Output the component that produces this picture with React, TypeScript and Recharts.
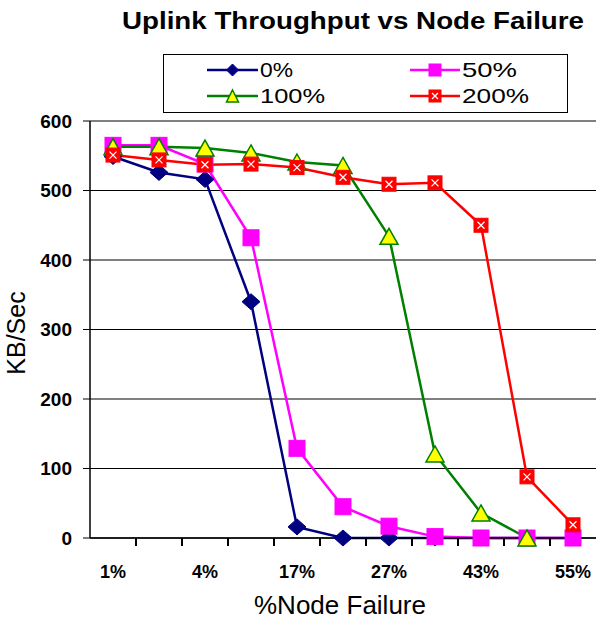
import React from "react";
import { LineChart, Line, XAxis, YAxis, CartesianGrid } from "recharts";

const categories = ["1%", "", "4%", "", "17%", "", "27%", "", "43%", "", "55%"];
const pos = [0.5, 1.5, 2.5, 3.5, 4.5, 5.5, 6.5, 7.5, 8.5, 9.5, 10.5];
const s0 = [549, 526, 516, 340, 16, 0, 0, 0, 0, 0, 0];
const s50 = [565, 565, 538, 432, 129, 45, 17, 2, 0, 0, 0];
const s100 = [563, 563, 561, 554, 541, 536, 434, 121, 36, 0, null];
const s200 = [551, 544, 537, 538, 533, 519, 509, 511, 450, 88, 19];
const yTicks = [0, 100, 200, 300, 400, 500, 600];
const boundaryTicks = [1, 2, 3, 4, 5, 6, 7, 8, 9, 10];
const xTicks = [...pos, ...boundaryTicks].sort((a, b) => a - b);

const data = categories.map((name, i) => ({
  name,
  x: pos[i],
  p0: s0[i],
  p50: s50[i],
  p100: s100[i],
  p200: s200[i],
}));

const FONT = "'Liberation Sans', Arial, sans-serif";
const NAVY = "#000080";
const MAGENTA = "#FF00FF";
const GREEN = "#008000";
const RED = "#FF0000";
const YELLOW = "#FFFF00";

const Diamond = ({ cx, cy, w = 9, h = 8 }: any) => (
  <polygon
    points={`${cx},${cy - h} ${cx + w},${cy} ${cx},${cy + h} ${cx - w},${cy}`}
    fill={NAVY}
    stroke={NAVY}
  />
);
const Square = ({ cx, cy, r = 8 }: any) => (
  <rect x={cx - r} y={cy - r} width={2 * r} height={2 * r} fill={MAGENTA} stroke={MAGENTA} />
);
const Tri = ({ cx, cy, w = 9, h = 8 }: any) => (
  <polygon
    points={`${cx},${cy - h} ${cx + w},${cy + h} ${cx - w},${cy + h}`}
    fill={YELLOW}
    stroke={GREEN}
    strokeWidth={1.5}
  />
);
const XSq = ({ cx, cy, r = 7 }: any) => (
  <g>
    <rect x={cx - r} y={cy - r} width={2 * r} height={2 * r} fill={RED} stroke={RED} />
    <line x1={cx - r * 0.5} y1={cy - r * 0.5} x2={cx + r * 0.5} y2={cy + r * 0.5} stroke="#fff" strokeWidth={1.2} />
    <line x1={cx - r * 0.5} y1={cy + r * 0.5} x2={cx + r * 0.5} y2={cy - r * 0.5} stroke="#fff" strokeWidth={1.2} />
  </g>
);

const mkDot = (Comp: any) => (props: any) => {
  const { cx, cy, index, value } = props;
  if (cx == null || cy == null || value == null) return <g key={`d${index}`} />;
  return <Comp key={`d${index}`} cx={cx} cy={cy} />;
};

const XTick = (props: any) => {
  const { x, y, payload } = props;
  const v = Number(payload.value);
  const isBoundary = Math.abs(v - Math.round(v)) < 1e-6;
  const label = isBoundary ? "" : categories[Math.floor(v)];
  return (
    <g>
      {isBoundary && <line x1={x} y1={y} x2={x} y2={y + 8} stroke="#000" strokeWidth={2} />}
      {label && (
        <text x={x} y={y + 40} textAnchor="middle" fontSize={18} fontWeight="bold" fill="#000" fontFamily={FONT}>
          {label}
        </text>
      )}
    </g>
  );
};

const legendItems = [
  { label: "0%", color: NAVY, x: 207, y: 70, len: 33, Comp: Diamond, w: 51 },
  { label: "50%", color: MAGENTA, x: 410, y: 70, len: 55, Comp: Square, w: 50 },
  { label: "100%", color: GREEN, x: 207, y: 96, len: 65, Comp: Tri, w: 51 },
  { label: "200%", color: RED, x: 410, y: 96, len: 67, Comp: XSq, w: 50 },
];

export default function App() {
  return (
    <div style={{ position: "absolute", left: 0, top: 0, width: 596, height: 621, background: "#fff" }}>
      <LineChart
        width={596}
        height={621}
        data={data}
        margin={{ top: 121, right: 0, left: 0, bottom: 0 }}
        style={{ fontFamily: FONT }}
      >
        <CartesianGrid vertical={false} stroke="#000" strokeWidth={1} />
        <XAxis
          type="number"
          dataKey="x"
          domain={[0, 11]}
          ticks={xTicks}
          interval={0}
          height={83}
          tickSize={0}
          tickMargin={0}
          tickLine={false}
          axisLine={{ stroke: "#000", strokeWidth: 1.5 }}
          tick={<XTick />}
        />
        <YAxis
          width={90}
          domain={[0, 600]}
          ticks={yTicks}
          interval={0}
          tickSize={7}
          tickMargin={11}
          axisLine={{ stroke: "#000", strokeWidth: 1.5 }}
          tickLine={{ stroke: "#000", strokeWidth: 1 }}
          tick={{ fill: "#000", fontSize: 19, fontWeight: "bold", fontFamily: FONT }}
        />
        <Line dataKey="p0" stroke={NAVY} strokeWidth={2.5} dot={mkDot(Diamond)} isAnimationActive={false} />
        <Line dataKey="p50" stroke={MAGENTA} strokeWidth={2.5} dot={mkDot(Square)} isAnimationActive={false} />
        <Line dataKey="p100" stroke={GREEN} strokeWidth={2.5} dot={mkDot(Tri)} isAnimationActive={false} />
        <Line dataKey="p200" stroke={RED} strokeWidth={2.5} dot={mkDot(XSq)} isAnimationActive={false} />
      </LineChart>
      <svg
        width={596}
        height={621}
        style={{ position: "absolute", left: 0, top: 0, pointerEvents: "none", fontFamily: FONT }}
      >
        <text x={122} y={29} fontSize={23} fontWeight="bold" textLength={462} lengthAdjust="spacingAndGlyphs" fill="#000">
          Uplink Throughput vs Node Failure
        </text>
        <rect x={163.5} y={54.5} width={404} height={58} fill="#fff" stroke="#000" strokeWidth={1} />
        {legendItems.map((it) => (
          <g key={it.label}>
            <line x1={it.x} y1={it.y} x2={it.x + it.w} y2={it.y} stroke={it.color} strokeWidth={2.5} />
            <it.Comp cx={it.x + it.w / 2} cy={it.y} w={6} h={6} r={6} />
            <text
              x={it.x + it.w + 2}
              y={it.y + 7}
              fontSize={21}
              textLength={it.len}
              lengthAdjust="spacingAndGlyphs"
              fill="#000"
            >
              {it.label}
            </text>
          </g>
        ))}
        <text x={25} y={333} fontSize={25} textAnchor="middle" transform="rotate(-90, 25, 333)" fill="#000">
          KB/Sec
        </text>
        <text x={340} y={614} fontSize={26} textAnchor="middle" fill="#000">
          %Node Failure
        </text>
      </svg>
    </div>
  );
}
